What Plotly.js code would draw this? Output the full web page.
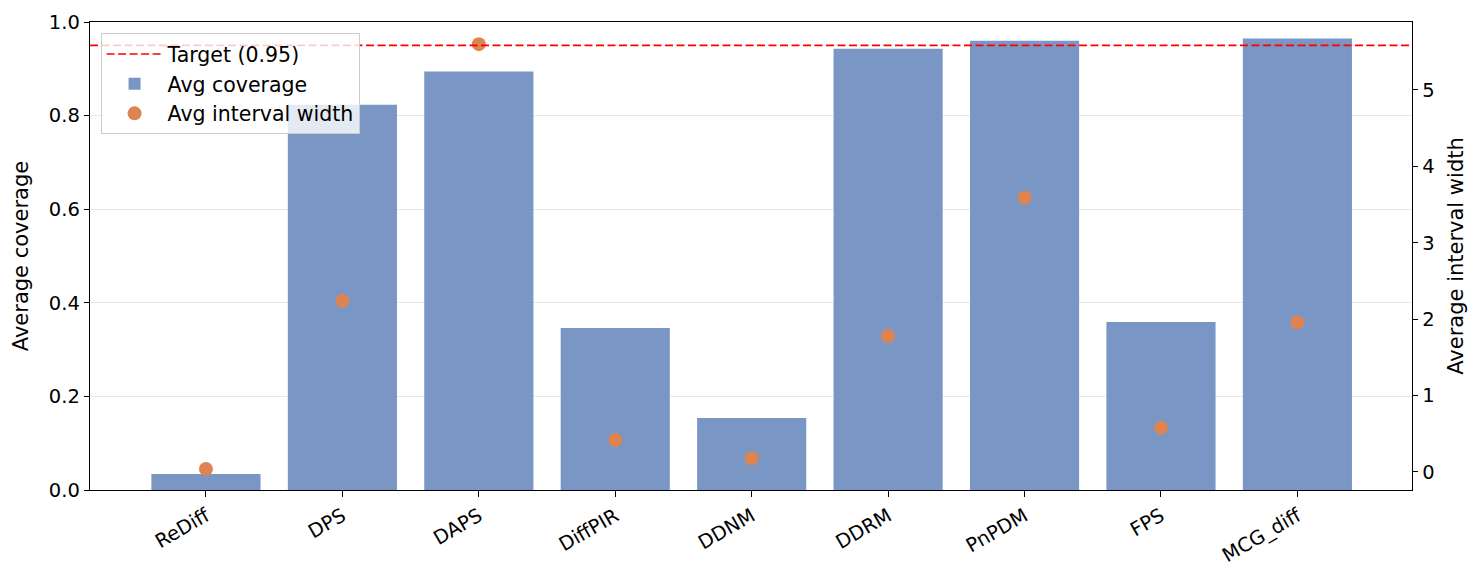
<!DOCTYPE html>
<html>
<head>
<meta charset="utf-8">
<script src="https://cdn.plot.ly/plotly-3.0.1.min.js"></script>
<style>html,body{margin:0;padding:0;background:#fff;}#chart{width:1482px;height:584px;}</style>
</head>
<body>
<div id="chart"></div>
<script>
const methods = ["ReDiff", "DPS", "DAPS", "DiffPIR", "DDNM", "DDRM", "PnPDM", "FPS", "MCG_diff"];
const avgCoverage = [0.034, 0.823, 0.894, 0.346, 0.154, 0.943, 0.960, 0.359, 0.965];
const avgIntervalWidth = [0.04, 2.24, 5.60, 0.42, 0.18, 1.78, 3.59, 0.58, 1.96];
const target = 0.95;

const tickFont = {family: "DejaVu Sans, sans-serif", size: 19.5, color: "#000"};
const titleFont = {family: "DejaVu Sans, sans-serif", size: 21, color: "#000"};

const traces = [
  {
    type: "bar", x: methods, y: avgCoverage, name: "Avg coverage",
    marker: {color: "#7996C4"}, width: 0.8, legendrank: 2, yaxis: "y"
  },
  {
    type: "scatter", mode: "markers", x: methods, y: avgIntervalWidth,
    name: "Avg interval width", yaxis: "y2",
    marker: {color: "#DD8452", size: 14}, legendrank: 3
  }
];

const layout = {
  width: 1482, height: 584,
  margin: {l: 90, r: 70, t: 22, b: 94},
  paper_bgcolor: "#fff", plot_bgcolor: "#fff",
  font: tickFont,
  showlegend: true,
  legend: {
    x: 0.008, y: 0.976, xanchor: "left", yanchor: "top",
    bgcolor: "rgba(255,255,255,0.8)", bordercolor: "#cccccc", borderwidth: 1,
    font: {family: "DejaVu Sans, sans-serif", size: 20.5, color: "#000"},
    traceorder: "normal", itemwidth: 56
  },
  xaxis: {
    range: [-0.85, 8.84], tickangle: -30,
    showline: true, linecolor: "#000", linewidth: 1.3, mirror: true,
    ticks: "outside", ticklen: 6, tickcolor: "#000",
    showgrid: false, zeroline: false, tickfont: tickFont
  },
  yaxis: {
    range: [0, 1], dtick: 0.2, tickformat: ".1f",
    title: {text: "Average coverage", font: titleFont, standoff: 14},
    showline: true, linecolor: "#000", linewidth: 1.3,
    ticks: "outside", ticklen: 5, tickcolor: "#000",
    showgrid: true, gridcolor: "#e8e8e8", gridwidth: 1, zeroline: false,
    tickfont: tickFont
  },
  yaxis2: {
    overlaying: "y", side: "right", range: [-0.236, 5.89], dtick: 1,
    title: {text: "Average interval width", font: titleFont, standoff: 14},
    showline: true, linecolor: "#000", linewidth: 1.3,
    ticks: "outside", ticklen: 5, tickcolor: "#000",
    showgrid: false, zeroline: false, tickfont: tickFont
  },
  shapes: [
    {
      type: "line", xref: "paper", x0: 0, x1: 1, yref: "y", y0: target, y1: target,
      line: {color: "#ff0000", width: 1.6, dash: "8px,3.5px"},
      showlegend: true, name: "Target (0.95)", legendrank: 1, layer: "above"
    }
  ]
};

Plotly.newPlot("chart", traces, layout, {displayModeBar: false, staticPlot: true});
</script>
</body>
</html>
